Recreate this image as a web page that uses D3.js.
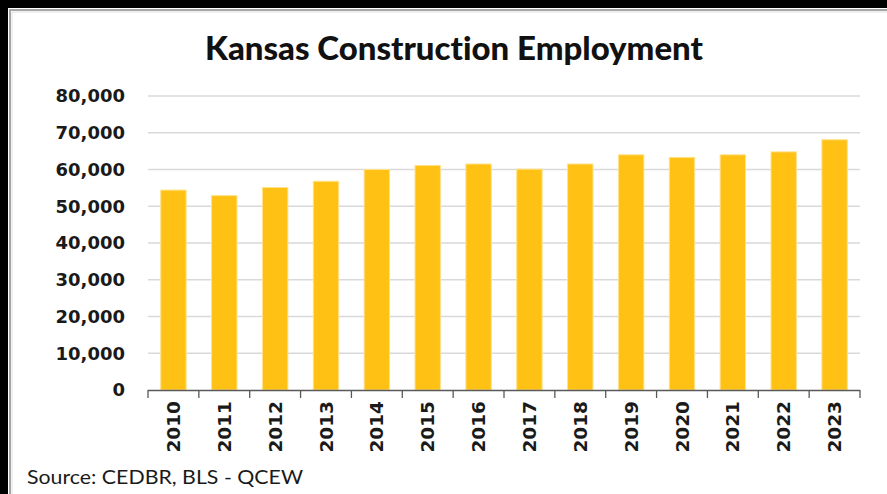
<!DOCTYPE html>
<html><head><meta charset="utf-8">
<script src="https://cdn.jsdelivr.net/npm/d3@7"></script>
<style>html,body{margin:0;padding:0;background:#fff;}svg{display:block;}text{font-variant-ligatures:none;font-feature-settings:"liga" 0;}</style>
</head><body>
<svg id="c" width="887" height="494"></svg>
<script>
const years = ["2010","2011","2012","2013","2014","2015","2016","2017","2018","2019","2020","2021","2022","2023"];
const employment = [54400, 52900, 55100, 56800, 60000, 61100, 61500, 60100, 61500, 64000, 63300, 64000, 64800, 68100];
const yTicks = [0,10000,20000,30000,40000,50000,60000,70000,80000];
const title = "Kansas Construction Employment";
const source = "Source: CEDBR, BLS - QCEW";

const svg = d3.select("#c");
// frame
svg.append("rect").attr("x",0).attr("y",0).attr("width",887).attr("height",494).attr("fill","#fff");
svg.append("rect").attr("x",0).attr("y",0).attr("width",887).attr("height",8).attr("fill","#000");
svg.append("rect").attr("x",0).attr("y",0).attr("width",8).attr("height",494).attr("fill","#000");
svg.append("path").attr("d","M10,494 V10 H887").attr("fill","none").attr("stroke","#a6a6a6").attr("stroke-width",2);
svg.append("path").attr("d","M12,494 V12 H887").attr("fill","none").attr("stroke","#e0e0e0").attr("stroke-width",1);

const x = d3.scaleBand().domain(years).range([148,860]).paddingInner(0.5).paddingOuter(0.25);
const y = d3.scaleLinear().domain([0,80000]).range([390,96]);

// gridlines
svg.append("g").selectAll("line").data(yTicks.slice(1)).join("line")
  .attr("x1",148).attr("x2",860).attr("y1",d=>y(d)).attr("y2",d=>y(d))
  .attr("stroke","#d9d9d9").attr("stroke-width",1.3);

// bars
svg.append("g").selectAll("rect").data(employment).join("rect")
  .attr("x",(d,i)=>x(years[i])).attr("width",x.bandwidth())
  .attr("y",d=>y(d)).attr("height",d=>y(0)-y(d))
  .attr("fill","#FFC114").attr("stroke","#FFE28C").attr("stroke-width",1);

// y axis labels
const yAxis = d3.axisLeft(y).tickValues(yTicks).tickFormat(d3.format(",")).tickSize(0).tickPadding(0);
const gy = svg.append("g").attr("transform","translate(125,0)").call(yAxis);
gy.select(".domain").remove();
gy.selectAll("text").attr("font-family","DejaVu Sans").attr("font-weight","bold").attr("font-size",18).attr("fill","#1a1a1a");

// x axis
const boundaries = d3.range(years.length+1).map(i=>148+i*(712/years.length));
const gx = svg.append("g");
gx.append("line").attr("x1",148).attr("x2",860).attr("y1",390.5).attr("y2",390.5).attr("stroke","#595959").attr("stroke-width",1.3);
gx.selectAll("line.t").data(boundaries).join("line").attr("class","t")
  .attr("x1",d=>d).attr("x2",d=>d).attr("y1",390).attr("y2",398).attr("stroke","#595959").attr("stroke-width",1.3);
gx.selectAll("text").data(years).join("text")
  .attr("transform",d=>`translate(${x(d)+x.bandwidth()/2+6.5},401) rotate(-90)`)
  .attr("text-anchor","end")
  .attr("font-family","DejaVu Sans").attr("font-weight","bold").attr("font-size",18.5).attr("fill","#1a1a1a")
  .text(d=>d);

// title
svg.append("text").attr("x",454).attr("y",60).attr("text-anchor","middle")
  .attr("font-family","Lato").attr("font-weight","900").attr("font-size",32).attr("fill","#111")
  .attr("textLength",498).attr("lengthAdjust","spacingAndGlyphs").text(title);

// source
svg.append("text").attr("x",27).attr("y",484)
  .attr("font-family","Lato").attr("font-size",20).attr("fill","#1a1a1a")
  .attr("textLength",276).attr("lengthAdjust","spacingAndGlyphs").text(source);
</script>
</body></html>
